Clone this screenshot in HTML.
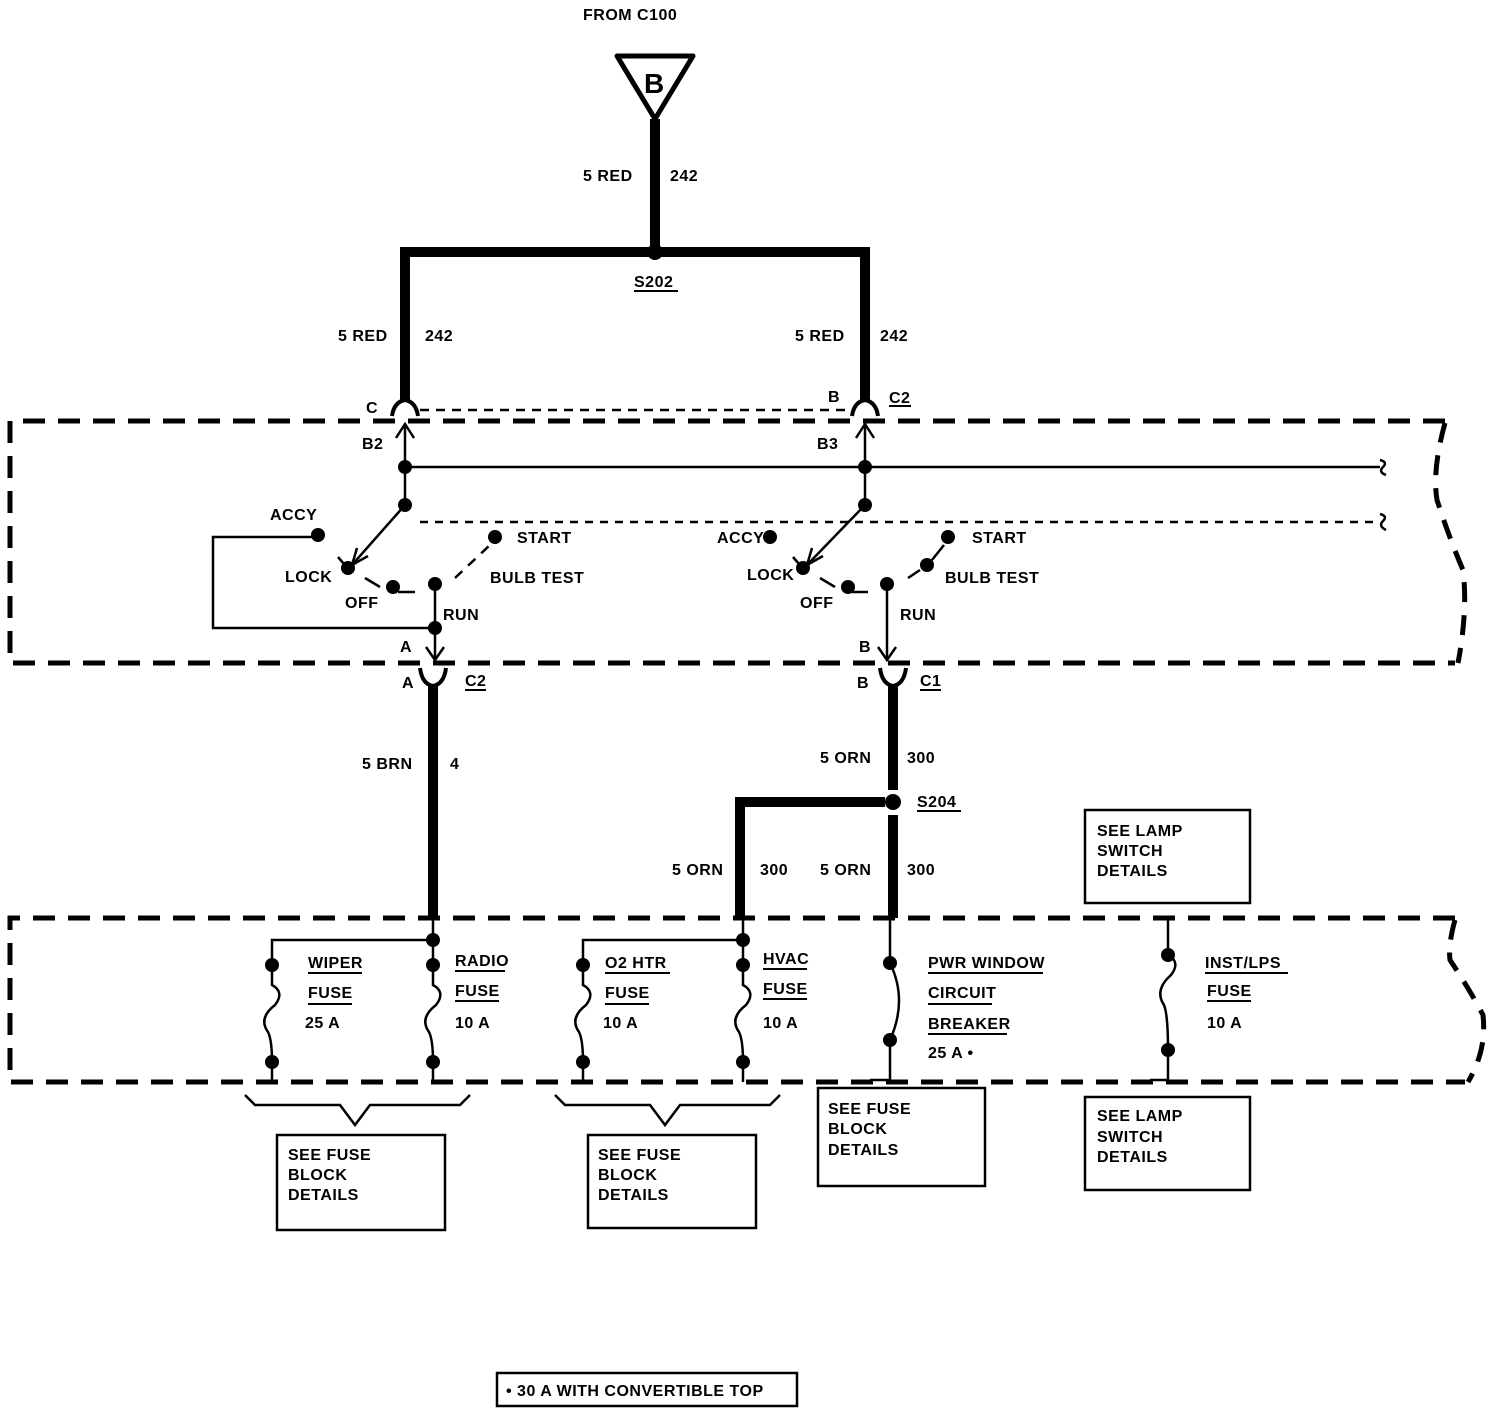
<!DOCTYPE html>
<html><head><style>
html,body{margin:0;padding:0;background:#fff;}
svg{display:block;}
text{font-family:"Liberation Sans",sans-serif;font-size:16px;font-weight:bold;fill:#000;letter-spacing:0.5px;}
</style></head><body>
<svg width="1504" height="1414" viewBox="0 0 1504 1414" xmlns="http://www.w3.org/2000/svg">
<g fill="none" stroke="#000" stroke-linecap="butt">
<!-- triangle -->
<path d="M617,56 L693,56 L655,119 Z" stroke-width="5" stroke-linejoin="round"/>
<!-- thick wires -->
<g stroke-width="10">
<line x1="655" y1="119" x2="655" y2="252"/>
<polyline points="405,400 405,252 865,252 865,400"/>
<line x1="433" y1="686" x2="433" y2="918"/>
<line x1="893" y1="686" x2="893" y2="790"/>
<line x1="893" y1="815" x2="893" y2="918"/>
<polyline points="885,802 740,802 740,918"/>
</g>
<!-- top connectors -->
<path d="M392,416 Q394,402 405,400 Q416,402 418,416" stroke-width="4"/>
<path d="M852,416 Q854,402 865,400 Q876,402 878,416" stroke-width="4"/>
<line x1="420" y1="410" x2="850" y2="410" stroke-width="2.5" stroke-dasharray="9,7"/>
<!-- dashed box 1 -->
<path d="M1445,421 L10,421 L10,663 L1455,663" stroke-width="5" stroke-dasharray="22,13"/>
<path d="M1445,423 Q1432,470 1437,500 Q1450,540 1463,570 Q1468,610 1458,663" stroke-width="5" stroke-dasharray="20,13"/>
<!-- arrows up -->
<line x1="405" y1="505" x2="405" y2="424" stroke-width="2.5"/>
<polyline points="396,438 405,424 414,438" stroke-width="2.5"/>
<line x1="865" y1="505" x2="865" y2="424" stroke-width="2.5"/>
<polyline points="856,438 865,424 874,438" stroke-width="2.5"/>
<line x1="405" y1="467" x2="1380" y2="467" stroke-width="2.5"/>
<path d="M1380,460 Q1388,462 1383,467 Q1378,472 1386,475" stroke-width="2.5"/>
<line x1="420" y1="522" x2="1376" y2="522" stroke-width="2.5" stroke-dasharray="8,7"/>
<path d="M1380,514 Q1388,516 1383,521 Q1378,526 1386,530" stroke-width="2.5"/>
<!-- left switch -->
<line x1="405" y1="505" x2="352" y2="565" stroke-width="2.5"/>
<polyline points="357,548 352,565 368,556" stroke-width="2.5"/>
<polyline points="318,537 213,537 213,628 435,628" stroke-width="2.5"/>
<line x1="338" y1="557" x2="344" y2="564" stroke-width="2.5"/>
<line x1="365" y1="578" x2="380" y2="587" stroke-width="2.5"/>
<line x1="398" y1="592" x2="415" y2="592" stroke-width="2.5"/>
<line x1="435" y1="583" x2="435" y2="660" stroke-width="2.5"/>
<polyline points="426,647 435,660 444,647" stroke-width="2.5"/>
<line x1="455" y1="578" x2="490" y2="545" stroke-width="2.5" stroke-dasharray="10,8"/>
<!-- right switch -->
<line x1="865" y1="505" x2="807" y2="565" stroke-width="2.5"/>
<polyline points="812,548 807,565 823,556" stroke-width="2.5"/>
<line x1="793" y1="557" x2="799" y2="564" stroke-width="2.5"/>
<line x1="820" y1="578" x2="835" y2="587" stroke-width="2.5"/>
<line x1="852" y1="592" x2="868" y2="592" stroke-width="2.5"/>
<line x1="887" y1="583" x2="887" y2="660" stroke-width="2.5"/>
<polyline points="878,647 887,660 896,647" stroke-width="2.5"/>
<line x1="908" y1="578" x2="920" y2="570" stroke-width="2.5"/>
<line x1="932" y1="560" x2="944" y2="545" stroke-width="2.5"/>
<!-- bottom connectors -->
<path d="M420,668 Q422,684 433,686 Q444,684 446,668" stroke-width="4"/>
<path d="M880,668 Q882,684 893,686 Q904,684 906,668" stroke-width="4"/>
<!-- dashed box 2 -->
<path d="M1455,918 L10,918 L10,1082 L1465,1082" stroke-width="5" stroke-dasharray="22,13"/>
<path d="M1455,920 Q1448,945 1450,960 Q1470,990 1483,1015 Q1487,1050 1468,1082" stroke-width="5" stroke-dasharray="20,13"/>
<!-- fuses -->
<g stroke-width="2.5">
<polyline points="433,918 433,940 272,940 272,965"/>
<line x1="433" y1="940" x2="433" y2="965"/>
<polyline points="743,918 743,940 583,940 583,965"/>
<line x1="743" y1="940" x2="743" y2="965"/>
<path d="M272,965 L272,985 Q285,992 275,1005 Q258,1018 268,1032 Q272,1040 272,1062 L272,1082"/>
<path d="M433,965 L433,985 Q446,992 436,1005 Q419,1018 429,1032 Q433,1040 433,1062 L433,1082"/>
<path d="M583,965 L583,985 Q596,992 586,1005 Q569,1018 579,1032 Q583,1040 583,1062 L583,1082"/>
<path d="M743,965 L743,985 Q756,992 746,1005 Q729,1018 739,1032 Q743,1040 743,1062 L743,1082"/>
<path d="M890,918 L890,963 Q908,1000 890,1040 L890,1080 L870,1080"/>
<path d="M1168,918 L1168,955 Q1181,962 1171,975 Q1154,990 1164,1005 Q1168,1015 1168,1050 L1168,1080 L1150,1080"/>
<polyline points="245,1095 255,1105 340,1105 355,1125 370,1105 460,1105 470,1095"/>
<polyline points="555,1095 565,1105 650,1105 665,1125 680,1105 770,1105 780,1095"/>
<rect x="1085" y="810" width="165" height="93"/>
<rect x="277" y="1135" width="168" height="95"/>
<rect x="588" y="1135" width="168" height="93"/>
<rect x="818" y="1088" width="167" height="98"/>
<rect x="1085" y="1097" width="165" height="93"/>
<rect x="497" y="1373" width="300" height="33"/>
</g>
<!-- underlines -->
<g stroke-width="2">
<line x1="634" y1="291" x2="678" y2="291"/>
<line x1="889" y1="406" x2="911" y2="406"/>
<line x1="465" y1="690" x2="486" y2="690"/>
<line x1="920" y1="690" x2="941" y2="690"/>
<line x1="917" y1="811" x2="961" y2="811"/>
<line x1="308" y1="973" x2="362" y2="973"/><line x1="308" y1="1004" x2="352" y2="1004"/>
<line x1="455" y1="971" x2="505" y2="971"/><line x1="455" y1="1001" x2="499" y2="1001"/>
<line x1="605" y1="973" x2="670" y2="973"/><line x1="605" y1="1004" x2="649" y2="1004"/>
<line x1="763" y1="969" x2="807" y2="969"/><line x1="763" y1="999" x2="807" y2="999"/>
<line x1="928" y1="973" x2="1043" y2="973"/><line x1="928" y1="1004" x2="992" y2="1004"/><line x1="928" y1="1034" x2="1007" y2="1034"/>
<line x1="1205" y1="973" x2="1288" y2="973"/><line x1="1207" y1="1001" x2="1251" y2="1001"/>
</g>
</g>
<!-- dots -->
<g fill="#000">
<circle cx="655" cy="252" r="8"/>
<circle cx="893" cy="802" r="8"/>
<circle cx="405" cy="467" r="7"/><circle cx="865" cy="467" r="7"/>
<circle cx="405" cy="505" r="7"/><circle cx="865" cy="505" r="7"/>
<circle cx="318" cy="535" r="7"/><circle cx="348" cy="568" r="7"/><circle cx="393" cy="587" r="7"/><circle cx="435" cy="584" r="7"/><circle cx="435" cy="628" r="7"/><circle cx="495" cy="537" r="7"/>
<circle cx="770" cy="537" r="7"/><circle cx="803" cy="568" r="7"/><circle cx="848" cy="587" r="7"/><circle cx="887" cy="584" r="7"/><circle cx="948" cy="537" r="7"/><circle cx="927" cy="565" r="7"/>
<circle cx="433" cy="940" r="7"/><circle cx="743" cy="940" r="7"/>
<circle cx="272" cy="965" r="7"/><circle cx="272" cy="1062" r="7"/>
<circle cx="433" cy="965" r="7"/><circle cx="433" cy="1062" r="7"/>
<circle cx="583" cy="965" r="7"/><circle cx="583" cy="1062" r="7"/>
<circle cx="743" cy="965" r="7"/><circle cx="743" cy="1062" r="7"/>
<circle cx="890" cy="963" r="7"/><circle cx="890" cy="1040" r="7"/>
<circle cx="1168" cy="955" r="7"/><circle cx="1168" cy="1050" r="7"/>
</g>
<text x="583" y="20">FROM C100</text>
<text x="644" y="93" style="font-size:28px">B</text>
<text x="583" y="181">5 RED</text><text x="670" y="181">242</text>
<text x="634" y="287">S202</text>
<text x="338" y="341">5 RED</text><text x="425" y="341">242</text>
<text x="795" y="341">5 RED</text><text x="880" y="341">242</text>
<text x="366" y="413">C</text><text x="828" y="402">B</text><text x="889" y="403">C2</text>
<text x="362" y="449">B2</text><text x="817" y="449">B3</text>
<text x="270" y="520">ACCY</text><text x="517" y="543">START</text>
<text x="285" y="582">LOCK</text><text x="490" y="583">BULB TEST</text>
<text x="345" y="608">OFF</text><text x="443" y="620">RUN</text><text x="400" y="652">A</text>
<text x="717" y="543">ACCY</text><text x="972" y="543">START</text>
<text x="747" y="580">LOCK</text><text x="945" y="583">BULB TEST</text>
<text x="800" y="608">OFF</text><text x="900" y="620">RUN</text><text x="859" y="652">B</text>
<text x="402" y="688">A</text><text x="465" y="686">C2</text>
<text x="857" y="688">B</text><text x="920" y="686">C1</text>
<text x="362" y="769">5 BRN</text><text x="450" y="769">4</text>
<text x="820" y="763">5 ORN</text><text x="907" y="763">300</text>
<text x="917" y="807">S204</text>
<text x="672" y="875">5 ORN</text><text x="760" y="875">300</text>
<text x="820" y="875">5 ORN</text><text x="907" y="875">300</text>
<text x="1097" y="836">SEE LAMP</text><text x="1097" y="856">SWITCH</text><text x="1097" y="876">DETAILS</text>
<text x="308" y="968">WIPER</text><text x="308" y="998">FUSE</text><text x="305" y="1028">25 A</text>
<text x="455" y="966">RADIO</text><text x="455" y="996">FUSE</text><text x="455" y="1028">10 A</text>
<text x="605" y="968">O2 HTR</text><text x="605" y="998">FUSE</text><text x="603" y="1028">10 A</text>
<text x="763" y="964">HVAC</text><text x="763" y="994">FUSE</text><text x="763" y="1028">10 A</text>
<text x="928" y="968">PWR WINDOW</text><text x="928" y="998">CIRCUIT</text><text x="928" y="1029">BREAKER</text><text x="928" y="1058">25 A •</text>
<text x="1205" y="968">INST/LPS</text><text x="1207" y="996">FUSE</text><text x="1207" y="1028">10 A</text>
<text x="288" y="1160">SEE FUSE</text><text x="288" y="1180">BLOCK</text><text x="288" y="1200">DETAILS</text>
<text x="598" y="1160">SEE FUSE</text><text x="598" y="1180">BLOCK</text><text x="598" y="1200">DETAILS</text>
<text x="828" y="1114">SEE FUSE</text><text x="828" y="1134">BLOCK</text><text x="828" y="1155">DETAILS</text>
<text x="1097" y="1121">SEE LAMP</text><text x="1097" y="1142">SWITCH</text><text x="1097" y="1162">DETAILS</text>
<text x="506" y="1396">• 30 A WITH CONVERTIBLE TOP</text>
</svg>
</body></html>
